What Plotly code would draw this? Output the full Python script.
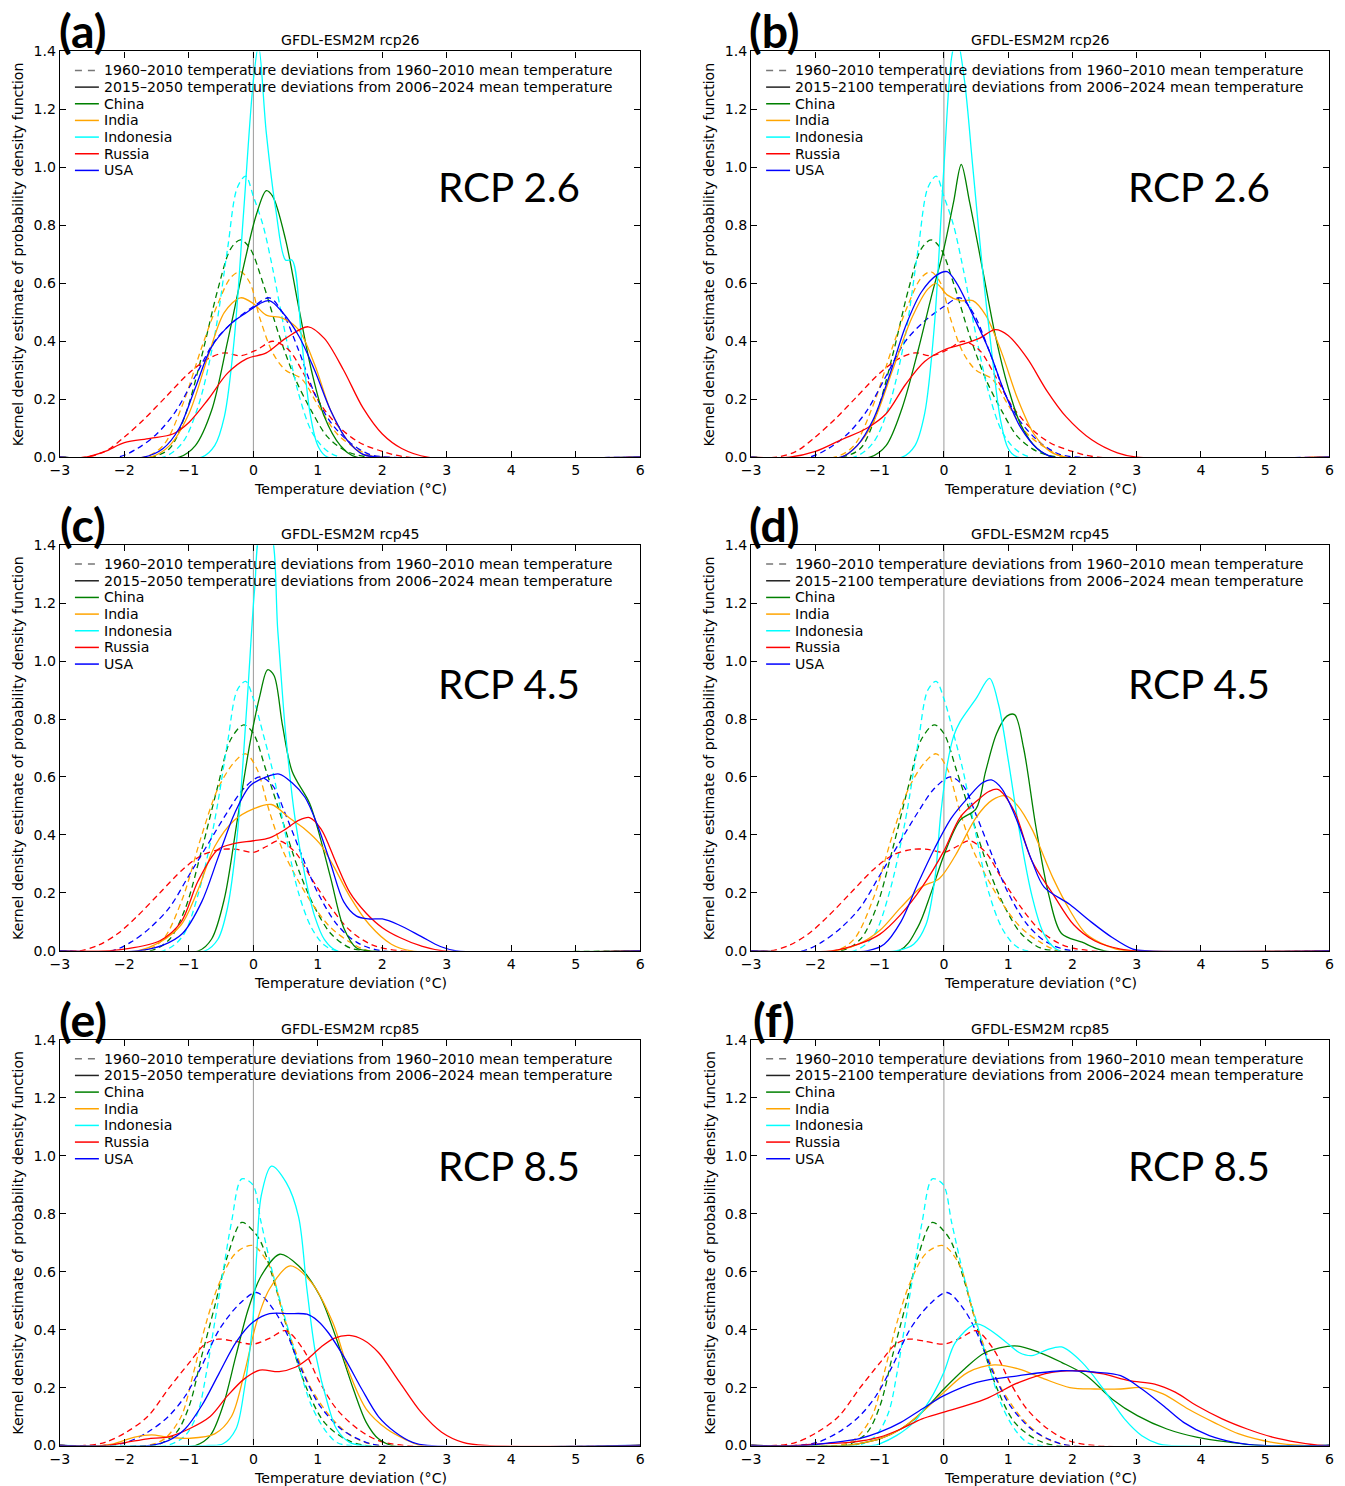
import plotly.graph_objects as go

# ---- data: (temperature deviation, density) points ----
COUNTRIES = ["China", "India", "Indonesia", "Russia", "USA"]
COLORS = ["#008000", "#FFA500", "#00FFFF", "#FF0000", "#0000FF"]

# 1960-2010 historical curves (dashed), one set per scenario row
hist26_china = [(-3,0),(-1.6,0),(-1.3,0.03),(-1.05,0.15),(-0.8,0.35),(-0.55,0.58),(-0.35,0.72),(-0.2,0.75),(-0.05,0.72),(0.15,0.6),(0.4,0.42),(0.65,0.27),(0.9,0.16),(1.15,0.07),(1.45,0.02),(1.8,0),(6,0)]
hist26_india = [(-3,0),(-1.7,0),(-1.4,0.04),(-1.1,0.18),(-0.8,0.38),(-0.55,0.53),(-0.35,0.62),(-0.2,0.64),(-0.05,0.6),(0.1,0.48),(0.3,0.36),(0.5,0.3),(0.75,0.27),(1.0,0.18),(1.3,0.08),(1.6,0.03),(1.9,0),(6,0)]
hist26_indonesia = [(-3,0),(-1.4,0),(-1.1,0.05),(-0.85,0.18),(-0.6,0.42),(-0.4,0.72),(-0.25,0.93),(-0.12,0.97),(0.0,0.9),(0.15,0.8),(0.3,0.65),(0.5,0.42),(0.7,0.22),(0.9,0.09),(1.1,0.03),(1.35,0),(6,0)]
hist26_russia = [(-3,0),(-2.6,0),(-2.3,0.02),(-2.0,0.07),(-1.7,0.13),(-1.35,0.21),(-1.0,0.29),(-0.7,0.34),(-0.45,0.36),(-0.2,0.35),(0.05,0.37),(0.3,0.4),(0.55,0.37),(0.8,0.28),(1.05,0.18),(1.35,0.1),(1.65,0.05),(2.0,0.02),(2.4,0),(6,0)]
hist26_usa = [(-3,0),(-2.1,0),(-1.8,0.03),(-1.5,0.08),(-1.2,0.16),(-0.9,0.28),(-0.6,0.4),(-0.3,0.47),(0.0,0.52),(0.25,0.55),(0.45,0.5),(0.7,0.37),(0.95,0.22),(1.2,0.12),(1.5,0.05),(1.8,0.01),(2.1,0),(6,0)]

hist45_china = [(-3,0),(-1.6,0),(-1.3,0.04),(-1.05,0.15),(-0.8,0.35),(-0.55,0.57),(-0.35,0.73),(-0.15,0.78),(0.0,0.75),(0.2,0.62),(0.45,0.45),(0.7,0.28),(0.95,0.15),(1.2,0.06),(1.5,0.01),(1.8,0),(6,0)]
hist45_india = [(-3,0),(-1.7,0),(-1.4,0.04),(-1.1,0.18),(-0.8,0.4),(-0.55,0.56),(-0.3,0.65),(-0.12,0.68),(0.05,0.63),(0.25,0.48),(0.45,0.35),(0.7,0.24),(0.95,0.15),(1.2,0.08),(1.5,0.03),(1.8,0),(6,0)]
hist45_indonesia = [(-3,0),(-1.4,0),(-1.1,0.05),(-0.85,0.2),(-0.6,0.45),(-0.4,0.72),(-0.25,0.9),(-0.12,0.93),(0.0,0.87),(0.15,0.75),(0.3,0.62),(0.5,0.4),(0.7,0.2),(0.9,0.08),(1.1,0.02),(1.3,0),(6,0)]
hist45_russia = [(-3,0),(-2.7,0),(-2.4,0.02),(-2.1,0.06),(-1.8,0.12),(-1.45,0.2),(-1.1,0.28),(-0.8,0.33),(-0.5,0.35),(-0.25,0.35),(0.0,0.34),(0.2,0.36),(0.4,0.38),(0.65,0.34),(0.9,0.25),(1.2,0.15),(1.5,0.07),(1.85,0.02),(2.3,0),(6,0)]
hist45_usa = [(-3,0),(-2.2,0),(-1.9,0.03),(-1.6,0.08),(-1.3,0.15),(-1.0,0.26),(-0.7,0.37),(-0.4,0.48),(-0.15,0.56),(0.1,0.6),(0.3,0.57),(0.5,0.47),(0.75,0.33),(1.0,0.2),(1.3,0.09),(1.6,0.03),(2.0,0),(6,0)]

hist85_china = [(-3,0),(-1.6,0),(-1.45,0.006),(-1.19,0.046),(-0.99,0.14),(-0.8,0.31),(-0.6,0.48),(-0.4,0.655),(-0.18,0.77),(0.0,0.74),(0.12,0.7),(0.31,0.574),(0.57,0.367),(0.83,0.195),(1.1,0.08),(1.42,0.023),(1.75,0),(6,0)]
hist85_india = [(-3,0),(-1.65,0),(-1.38,0.023),(-1.12,0.1),(-0.93,0.25),(-0.73,0.425),(-0.53,0.56),(-0.27,0.665),(-0.01,0.69),(0.25,0.62),(0.44,0.47),(0.64,0.333),(0.9,0.195),(1.23,0.09),(1.55,0.029),(1.95,0),(6,0)]
hist85_indonesia = [(-3,0),(-1.35,0),(-1.06,0.034),(-0.86,0.115),(-0.73,0.25),(-0.6,0.425),(-0.47,0.6),(-0.34,0.77),(-0.18,0.92),(-0.01,0.9),(0.12,0.77),(0.31,0.585),(0.51,0.425),(0.7,0.275),(0.9,0.138),(1.1,0.057),(1.29,0.011),(1.5,0),(6,0)]
hist85_russia = [(-3,0),(-2.62,0),(-2.3,0.011),(-1.97,0.046),(-1.64,0.1),(-1.32,0.195),(-0.99,0.287),(-0.75,0.35),(-0.55,0.367),(-0.3,0.36),(0.0,0.35),(0.25,0.37),(0.5,0.396),(0.77,0.333),(1.03,0.218),(1.29,0.126),(1.62,0.057),(1.94,0.017),(2.35,0),(6,0)]
hist85_usa = [(-3,0),(-2.3,0),(-1.97,0.011),(-1.64,0.046),(-1.32,0.1),(-1.06,0.17),(-0.8,0.275),(-0.53,0.4),(-0.21,0.49),(0.05,0.528),(0.31,0.47),(0.51,0.39),(0.77,0.25),(1.03,0.138),(1.36,0.057),(1.68,0.017),(1.95,0),(6,0)]

# future curves (solid), one set per panel
a_china = [(-3,0),(-1.15,0),(-0.9,0.04),(-0.65,0.16),(-0.4,0.4),(-0.15,0.66),(0.05,0.84),(0.2,0.92),(0.3,0.9),(0.5,0.75),(0.7,0.52),(0.9,0.3),(1.1,0.14),(1.35,0.04),(1.6,0),(6,0)]
a_india = [(-3,0),(-1.6,0),(-1.3,0.04),(-1.0,0.15),(-0.7,0.35),(-0.45,0.5),(-0.2,0.55),(0.0,0.53),(0.2,0.49),(0.45,0.48),(0.7,0.44),(0.95,0.32),(1.2,0.16),(1.45,0.06),(1.7,0.01),(2.0,0),(6,0)]
a_indonesia = [(-3,0),(-0.8,0),(-0.6,0.04),(-0.45,0.14),(-0.3,0.4),(-0.15,0.85),(0.0,1.3),(0.08,1.42),(0.2,1.12),(0.35,0.85),(0.5,0.68),(0.6,0.68),(0.75,0.4),(0.88,0.15),(1.0,0.04),(1.15,0),(6,0)]
a_russia = [(-3,0),(-2.6,0),(-2.3,0.02),(-2.0,0.05),(-1.6,0.065),(-1.25,0.08),(-1.0,0.12),(-0.7,0.2),(-0.4,0.29),(-0.1,0.34),(0.2,0.36),(0.5,0.41),(0.85,0.45),(1.1,0.41),(1.4,0.3),(1.7,0.17),(2.0,0.08),(2.3,0.03),(2.7,0),(6,0)]
a_usa = [(-3,0),(-1.7,0),(-1.4,0.03),(-1.15,0.1),(-0.9,0.24),(-0.65,0.38),(-0.35,0.46),(-0.1,0.5),(0.1,0.53),(0.25,0.54),(0.45,0.5),(0.7,0.42),(0.95,0.3),(1.2,0.16),(1.45,0.06),(1.7,0.01),(2.0,0),(6,0)]

b_china = [(-3,0),(-1.15,0),(-0.9,0.04),(-0.65,0.17),(-0.4,0.37),(-0.2,0.55),(0.0,0.72),(0.15,0.88),(0.27,1.01),(0.4,0.88),(0.6,0.65),(0.8,0.42),(1.0,0.24),(1.2,0.11),(1.45,0.03),(1.7,0),(6,0)]
b_india = [(-3,0),(-1.6,0),(-1.35,0.04),(-1.1,0.12),(-0.8,0.3),(-0.5,0.48),(-0.25,0.58),(-0.12,0.6),(0.05,0.56),(0.25,0.54),(0.45,0.54),(0.65,0.49),(0.9,0.36),(1.15,0.2),(1.4,0.08),(1.65,0.02),(1.9,0),(6,0)]
b_indonesia = [(-3,0),(-0.65,0),(-0.45,0.04),(-0.3,0.15),(-0.15,0.45),(0.0,1.0),(0.12,1.38),(0.2,1.45),(0.32,1.3),(0.45,1.0),(0.6,0.65),(0.75,0.35),(0.88,0.13),(1.0,0.03),(1.15,0),(6,0)]
b_russia = [(-3,0),(-2.4,0),(-2.0,0.02),(-1.6,0.06),(-1.2,0.1),(-0.9,0.15),(-0.6,0.25),(-0.3,0.33),(0.0,0.37),(0.3,0.39),(0.55,0.41),(0.8,0.44),(1.0,0.42),(1.3,0.34),(1.6,0.23),(1.9,0.14),(2.3,0.06),(2.7,0.015),(3.0,0),(6,0)]
b_usa = [(-3,0),(-1.6,0),(-1.35,0.04),(-1.1,0.13),(-0.85,0.28),(-0.6,0.45),(-0.35,0.57),(-0.1,0.63),(0.05,0.64),(0.2,0.6),(0.45,0.49),(0.7,0.37),(0.95,0.22),(1.2,0.1),(1.45,0.03),(1.7,0),(6,0)]

c_china = [(-3,0),(-0.85,0),(-0.65,0.04),(-0.45,0.18),(-0.25,0.45),(-0.05,0.72),(0.1,0.88),(0.22,0.97),(0.32,0.95),(0.45,0.78),(0.6,0.62),(0.87,0.51),(1.0,0.42),(1.2,0.25),(1.4,0.08),(1.6,0.01),(1.8,0),(6,0)]
c_india = [(-3,0),(-1.8,0),(-1.45,0.03),(-1.12,0.09),(-0.86,0.21),(-0.6,0.36),(-0.3,0.45),(0.0,0.49),(0.28,0.505),(0.55,0.46),(0.8,0.42),(1.03,0.37),(1.25,0.29),(1.49,0.19),(1.8,0.09),(2.14,0.023),(2.45,0),(6,0)]
c_indonesia = [(-3,0),(-0.75,0),(-0.55,0.04),(-0.4,0.15),(-0.25,0.4),(-0.1,0.85),(0.02,1.25),(0.12,1.45),(0.25,1.45),(0.38,1.1),(0.5,0.75),(0.65,0.45),(0.8,0.26),(0.95,0.12),(1.1,0.04),(1.3,0),(6,0)]
c_russia = [(-3,0),(-2.3,0),(-2.0,0.006),(-1.45,0.035),(-1.12,0.1),(-0.86,0.24),(-0.55,0.35),(-0.3,0.37),(0.0,0.38),(0.25,0.39),(0.5,0.42),(0.7,0.45),(0.87,0.46),(1.05,0.42),(1.29,0.3),(1.5,0.2),(1.75,0.13),(2.0,0.08),(2.27,0.046),(2.6,0.017),(2.95,0),(6,0)]
c_usa = [(-3,0),(-1.8,0),(-1.4,0.02),(-1.1,0.06),(-0.8,0.17),(-0.55,0.32),(-0.3,0.47),(-0.05,0.57),(0.2,0.6),(0.4,0.61),(0.6,0.58),(0.8,0.53),(1.0,0.43),(1.2,0.3),(1.4,0.17),(1.6,0.12),(1.8,0.11),(2.0,0.11),(2.25,0.09),(2.6,0.05),(2.9,0.015),(3.15,0),(6,0)]

d_china = [(-3,0),(-0.7,0),(-0.41,0.08),(-0.2,0.2),(0.0,0.33),(0.25,0.45),(0.5,0.49),(0.65,0.62),(0.82,0.75),(0.98,0.81),(1.1,0.815),(1.24,0.7),(1.43,0.43),(1.63,0.195),(1.83,0.06),(2.15,0.03),(2.5,0),(6,0)]
d_india = [(-3,0),(-1.7,0),(-1.33,0.023),(-1.0,0.07),(-0.67,0.15),(-0.35,0.22),(-0.07,0.25),(0.18,0.33),(0.5,0.46),(0.75,0.52),(0.97,0.535),(1.15,0.5),(1.37,0.42),(1.7,0.25),(1.96,0.14),(2.22,0.057),(2.68,0.006),(3.0,0),(6,0)]
d_indonesia = [(-3,0),(-0.75,0),(-0.47,0.023),(-0.28,0.09),(-0.14,0.25),(-0.05,0.47),(0.05,0.64),(0.15,0.74),(0.25,0.79),(0.5,0.87),(0.71,0.94),(0.85,0.85),(1.0,0.66),(1.17,0.42),(1.37,0.19),(1.56,0.057),(1.8,0),(6,0)]
d_russia = [(-3,0),(-1.75,0),(-1.33,0.023),(-1.0,0.057),(-0.67,0.126),(-0.34,0.22),(0.0,0.345),(0.25,0.46),(0.51,0.517),(0.7,0.55),(0.84,0.557),(1.1,0.48),(1.37,0.31),(1.7,0.195),(2.02,0.09),(2.35,0.034),(2.75,0.006),(3.0,0),(6,0)]
d_usa = [(-3,0),(-1.2,0),(-0.93,0.023),(-0.67,0.1),(-0.41,0.23),(-0.14,0.356),(0.12,0.46),(0.38,0.53),(0.6,0.58),(0.74,0.59),(0.9,0.56),(1.1,0.47),(1.37,0.31),(1.56,0.22),(1.96,0.16),(2.29,0.1),(2.62,0.046),(2.94,0.006),(3.2,0),(6,0)]

e_china = [(-3,0),(-0.9,0),(-0.67,0.034),(-0.47,0.138),(-0.27,0.31),(-0.08,0.47),(0.12,0.585),(0.41,0.66),(0.7,0.62),(1.03,0.517),(1.29,0.367),(1.55,0.195),(1.75,0.08),(1.94,0.023),(2.15,0),(6,0)]
e_india = [(-3,0),(-2.35,0),(-2.17,0.006),(-1.84,0.029),(-1.58,0.037),(-1.32,0.029),(-0.99,0.025),(-0.6,0.04),(-0.34,0.1),(-0.14,0.25),(0.05,0.425),(0.25,0.54),(0.57,0.62),(0.9,0.563),(1.23,0.425),(1.49,0.25),(1.75,0.126),(2.07,0.057),(2.34,0.023),(2.6,0),(6,0)]
e_indonesia = [(-3,0),(-0.7,0),(-0.47,0.006),(-0.27,0.057),(-0.14,0.195),(-0.01,0.425),(0.05,0.654),(0.12,0.86),(0.28,0.964),(0.51,0.907),(0.7,0.79),(0.83,0.54),(0.97,0.31),(1.16,0.138),(1.29,0.057),(1.49,0.011),(1.7,0),(6,0)]
e_russia = [(-3,0),(-2.3,0),(-1.97,0.011),(-1.64,0.023),(-1.32,0.03),(-1.0,0.057),(-0.67,0.1),(-0.4,0.172),(-0.14,0.23),(0.1,0.26),(0.4,0.255),(0.65,0.27),(0.85,0.3),(1.05,0.34),(1.25,0.37),(1.49,0.38),(1.7,0.365),(1.94,0.321),(2.27,0.218),(2.6,0.115),(2.92,0.046),(3.25,0.011),(3.6,0),(6,0)]
e_usa = [(-3,0),(-1.6,0),(-1.32,0.017),(-1.06,0.057),(-0.8,0.138),(-0.53,0.25),(-0.27,0.356),(-0.01,0.425),(0.25,0.455),(0.55,0.455),(0.83,0.453),(1.0,0.43),(1.16,0.39),(1.42,0.3),(1.68,0.195),(1.94,0.1),(2.2,0.046),(2.47,0.011),(2.7,0),(6,0)]

f_china = [(-3,0),(-1.5,0),(-1.33,0.006),(-1.0,0.023),(-0.67,0.057),(-0.34,0.115),(0.0,0.195),(0.32,0.264),(0.64,0.32),(1.1,0.344),(1.5,0.32),(1.83,0.287),(2.22,0.241),(2.62,0.16),(3.01,0.103),(3.47,0.057),(3.93,0.029),(4.46,0.011),(4.9,0),(6,0)]
f_india = [(-3,0),(-1.5,0),(-1.33,0.006),(-1.0,0.023),(-0.67,0.057),(-0.34,0.115),(0.0,0.184),(0.38,0.253),(0.78,0.278),(1.17,0.264),(1.56,0.23),(1.96,0.2),(2.35,0.195),(2.75,0.195),(3.08,0.2),(3.41,0.178),(3.8,0.126),(4.2,0.08),(4.59,0.04),(5.11,0.011),(5.6,0),(6,0)]
f_indonesia = [(-3,0),(-1.1,0),(-1.0,0.006),(-0.74,0.034),(-0.47,0.08),(-0.21,0.16),(0.0,0.253),(0.18,0.356),(0.51,0.42),(0.91,0.367),(1.17,0.321),(1.37,0.31),(1.6,0.33),(1.83,0.34),(2.15,0.287),(2.48,0.195),(2.81,0.092),(3.08,0.034),(3.34,0.006),(3.5,0),(6,0)]
f_russia = [(-3,0),(-2.3,0),(-1.92,0.006),(-1.46,0.011),(-1.0,0.029),(-0.67,0.057),(-0.34,0.092),(0.0,0.115),(0.64,0.16),(1.17,0.218),(1.7,0.253),(2.09,0.258),(2.48,0.247),(2.88,0.224),(3.28,0.212),(3.6,0.184),(3.93,0.138),(4.33,0.092),(4.72,0.057),(5.11,0.029),(5.51,0.011),(5.9,0),(6,0)]
f_usa = [(-3,0),(-2.2,0),(-1.79,0.009),(-1.33,0.023),(-1.0,0.046),(-0.67,0.08),(-0.34,0.126),(0.0,0.172),(0.51,0.218),(1.17,0.241),(1.83,0.258),(2.35,0.253),(2.75,0.241),(3.08,0.195),(3.41,0.138),(3.73,0.08),(4.13,0.034),(4.52,0.011),(4.95,0),(6,0)]

HIST_26 = [hist26_china, hist26_india, hist26_indonesia, hist26_russia, hist26_usa]
HIST_45 = [hist45_china, hist45_india, hist45_indonesia, hist45_russia, hist45_usa]
HIST_85 = [hist85_china, hist85_india, hist85_indonesia, hist85_russia, hist85_usa]

# panel letter, model title, scenario label, historical set, future set, future period
PANELS = [
    ("(a)", "GFDL-ESM2M rcp26", "RCP 2.6", HIST_26, [a_china, a_india, a_indonesia, a_russia, a_usa], "2015–2050"),
    ("(b)", "GFDL-ESM2M rcp26", "RCP 2.6", HIST_26, [b_china, b_india, b_indonesia, b_russia, b_usa], "2015–2100"),
    ("(c)", "GFDL-ESM2M rcp45", "RCP 4.5", HIST_45, [c_china, c_india, c_indonesia, c_russia, c_usa], "2015–2050"),
    ("(d)", "GFDL-ESM2M rcp45", "RCP 4.5", HIST_45, [d_china, d_india, d_indonesia, d_russia, d_usa], "2015–2100"),
    ("(e)", "GFDL-ESM2M rcp85", "RCP 8.5", HIST_85, [e_china, e_india, e_indonesia, e_russia, e_usa], "2015–2050"),
    ("(f)", "GFDL-ESM2M rcp85", "RCP 8.5", HIST_85, [f_china, f_india, f_indonesia, f_russia, f_usa], "2015–2100"),
]

W, H = 1345, 1486
# the photographed page comes out about 1% smaller than the figure, so the
# layout is stretched by the same amount to land on the intended pixels
SX, SY = 0.99, 1471 / 1486
FS = 1 / SX


def fx(px):
    return ((px - 10) / SX) / W


def fy(px):
    return 1 - (H / 2 + (px - H / 2) / SY) / H


# plot-area boxes in target pixels (left, right, top, bottom)
COL_X = [(60, 641), (752, 1331)]
ROW_Y = [(51, 457), (545, 951), (1040, 1446)]

FONT = "DejaVu Sans"
DASH = "6px,4px"

fig = go.Figure()
annotations = []
shapes = []


def unzip(points):
    return [p[0] for p in points], [p[1] for p in points]


for i, (letter, title, rcp, hist, fut, period) in enumerate(PANELS):
    n = i + 1
    sfx = "" if n == 1 else str(n)
    xa, ya = "x" + sfx, "y" + sfx
    left, right = COL_X[i % 2]
    top, bottom = ROW_Y[i // 2]
    pw = right - left
    ph = bottom - top

    # dashed historical curves
    for pts, col in zip(hist, COLORS):
        x, y = unzip(pts)
        fig.add_trace(go.Scatter(x=x, y=y, xaxis=xa, yaxis=ya, mode="lines", showlegend=False,
                                 line=dict(color=col, width=1.3, dash=DASH, shape="spline", smoothing=0.9),
                                 hoverinfo="skip"))
    # solid future curves
    for pts, col in zip(fut, COLORS):
        x, y = unzip(pts)
        fig.add_trace(go.Scatter(x=x, y=y, xaxis=xa, yaxis=ya, mode="lines", showlegend=False,
                                 line=dict(color=col, width=1.3, shape="spline", smoothing=0.9),
                                 hoverinfo="skip"))

    axis_common = dict(showline=True, linecolor="black", linewidth=1.2, mirror="allticks",
                       ticks="inside", ticklen=6, tickcolor="black", showgrid=False, zeroline=False,
                       tickfont=dict(size=14 * FS, color="black", family=FONT))
    fig.update_layout({
        "xaxis" + sfx: dict(domain=[fx(left), fx(right)], anchor=ya, range=[-3, 6], dtick=1, **axis_common),
        "yaxis" + sfx: dict(domain=[fy(bottom), fy(top)], anchor=xa, range=[0, 1.4], dtick=0.2,
                            tickformat=".1f", **axis_common),
    })

    # zero reference line
    shapes.append(dict(type="line", xref=xa, yref=ya + " domain", x0=0, x1=0, y0=0, y1=1,
                       line=dict(color="#9a9a9a", width=1), layer="below"))

    # legend drawn by hand (matplotlib-like compact spacing)
    entries = [("1960–2010 temperature deviations from 1960–2010 mean temperature", "#777777", "7px,6px"),
               (f"{period} temperature deviations from 2006–2024 mean temperature", "#222222", "solid")]
    entries += [(c, col, "solid") for c, col in zip(COUNTRIES, COLORS)]
    for k, (label, col, dash) in enumerate(entries):
        yk = 1 - (19 + k * 16.67) / ph
        shapes.append(dict(type="line", xref=xa + " domain", yref=ya + " domain",
                           x0=15 / pw, x1=39 / pw, y0=yk, y1=yk,
                           line=dict(color=col, width=1.5, dash=dash)))
        annotations.append(dict(text=label, xref=xa + " domain", yref=ya + " domain",
                                x=42 / pw, y=yk, xanchor="left", yanchor="middle", showarrow=False,
                                font=dict(size=14 * FS, family=FONT, color="black")))

    annotations += [
        dict(text=title, xref=xa + " domain", yref=ya + " domain", x=0.5, y=1 + 11 / ph,
             showarrow=False, yanchor="middle", font=dict(size=14 * FS, family=FONT)),
        dict(text=f"<b>{letter}</b>", xref=xa + " domain", yref=ya + " domain", x=23 / pw,
             y=1 + 21 / ph, showarrow=False, xanchor="center", yanchor="middle",
             font=dict(size=46 * FS, family="Lato", color="black")),
        dict(text=rcp, xref=xa + " domain", yref=ya + " domain", x=0.774,
             y=[0.668, 0.66, 0.69][i // 2], showarrow=False, xanchor="center", yanchor="middle",
             font=dict(size=40 * FS, family="Lato", color="black")),
        dict(text="Kernel density estimate of probability density function", xref=xa + " domain",
             yref=ya + " domain", x=-42 / pw, y=0.5, textangle=-90, showarrow=False,
             xanchor="center", yanchor="middle", font=dict(size=14 * FS, family=FONT)),
        dict(text="Temperature deviation (°C)", xref=xa + " domain", yref=ya + " domain",
             x=0.5, y=-32 / ph, showarrow=False, xanchor="center", yanchor="middle",
             font=dict(size=14 * FS, family=FONT)),
    ]

fig.update_layout(
    width=W, height=H,
    margin=dict(l=0, r=0, t=0, b=0),
    paper_bgcolor="white", plot_bgcolor="white",
    font=dict(family=FONT, color="black"),
    annotations=annotations,
    shapes=shapes,
)

# drop the default page margin and scrollbars so the figure fills the window
page_fix = ("document.body.style.margin = '0';"
            "document.body.style.overflow = 'hidden';"
            "document.documentElement.style.overflow = 'hidden';")
fig.write_html("out.html", post_script=page_fix, config={"displayModeBar": False})
